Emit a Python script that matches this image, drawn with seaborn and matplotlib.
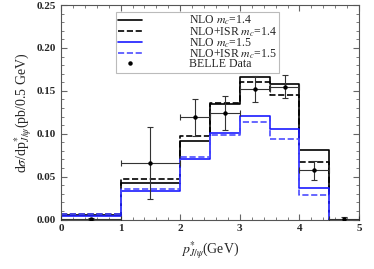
import numpy as np
import pandas as pd
import matplotlib
matplotlib.use('Agg')
import matplotlib.pyplot as plt
from matplotlib.lines import Line2D
from matplotlib.ticker import MultipleLocator, FormatStrFormatter
import seaborn as sns

# Bin edges and histogram heights (pb / 0.5 GeV)
edges = [0, 1, 2, 2.5, 3, 3.5, 4, 4.5, 5]
nlo_14 = [0.005, 0.043, 0.092, 0.135, 0.1665, 0.158, 0.081, 0.0]
nlo_isr_14 = [0.007, 0.047, 0.097, 0.136, 0.1605, 0.145, 0.0675, 0.0]
nlo_15 = [0.004, 0.033, 0.0705, 0.101, 0.1206, 0.106, 0.0367, 0.0]
nlo_isr_15 = [0.006, 0.036, 0.073, 0.099, 0.1136, 0.094, 0.029, 0.0]

# BELLE data points
belle_x = [0.5, 1.5, 2.25, 2.75, 3.25, 3.75, 4.25, 4.75]
belle_xerr = [0.5, 0.5, 0.25, 0.25, 0.25, 0.25, 0.25, 0.25]
belle_y = [0.0005, 0.066, 0.119, 0.124, 0.152, 0.155, 0.0575, 0.0005]
belle_yerr = [0.001, 0.042, 0.022, 0.0195, 0.015, 0.013, 0.011, 0.003]

sns.set_style('ticks')
plt.rcParams['font.family'] = ['Liberation Serif', 'DejaVu Serif']
plt.rcParams['mathtext.fontset'] = 'stix'

fig = plt.figure(figsize=(3.74, 2.69), dpi=100)
ax = fig.add_axes([0.163, 0.184, 0.797, 0.797])

series = [
    (nlo_14, 'NLO $m_c$=1.4', 'black', '-'),
    (nlo_isr_14, 'NLO+ISR $m_c$=1.4', 'black', '--'),
    (nlo_15, 'NLO $m_c$=1.5', '#1a1aff', '-'),
    (nlo_isr_15, 'NLO+ISR $m_c$=1.5', '#4d4dff', '--'),
]
handles = []
for vals, lab, col, ls in series:
    df = pd.DataFrame({'x': edges, 'y': vals + [vals[-1]]})
    sns.lineplot(data=df, x='x', y='y', drawstyle='steps-post', color=col,
                 linestyle=ls, linewidth=1.2, ax=ax)
    handles.append(Line2D([], [], color=col, linestyle=ls, linewidth=1.2,
                          label=lab))

ax.errorbar(belle_x, belle_y, xerr=belle_xerr, yerr=belle_yerr, fmt='o',
            color='black', ecolor='#333333', elinewidth=0.8, capsize=2.5,
            capthick=0.8, markersize=2.2, zorder=5)
handles.append(Line2D([], [], color='black', marker='o', markersize=2.2,
                      linestyle='none', label='BELLE Data'))

ax.set_xlim(0, 5)
ax.set_ylim(0, 0.25)
ax.xaxis.set_major_locator(MultipleLocator(1))
ax.xaxis.set_minor_locator(MultipleLocator(0.2))
ax.yaxis.set_major_locator(MultipleLocator(0.05))
ax.yaxis.set_minor_locator(MultipleLocator(0.01))
ax.yaxis.set_major_formatter(FormatStrFormatter('%.2f'))
ax.tick_params(which='both', direction='in', top=True, right=True,
               color='#666666')
ax.tick_params(which='major', length=4, labelsize=8)
ax.tick_params(which='minor', length=2)
for t in ax.get_xticklabels() + ax.get_yticklabels():
    t.set_fontweight('bold')
for s in ax.spines.values():
    s.set_color('#555555')
    s.set_linewidth(0.8)

ax.set_xlabel(r'$p^{*}_{J/\psi}$(GeV)', fontsize=10)
ax.set_ylabel(r'd$\sigma$/dp$^{*}_{J/\psi}$(pb/0.5 GeV)', fontsize=10,
              labelpad=2)

leg = ax.legend(handles=handles, loc='upper left',
                bbox_to_anchor=(0.185, 0.97), fontsize=8.5,
                frameon=True, fancybox=False, labelspacing=-0.2,
                handlelength=2.0, handletextpad=4.0, borderpad=0.2,
                borderaxespad=0, framealpha=1)
leg.get_frame().set_edgecolor('#bbbbbb')
leg.get_frame().set_linewidth(0.8)

plt.savefig('out.png', dpi=100)
plt.close()
